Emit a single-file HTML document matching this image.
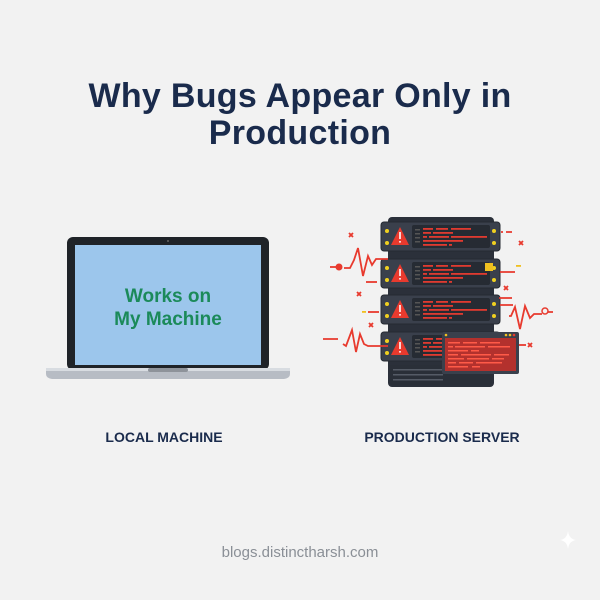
<!DOCTYPE html>
<html><head><style>
html,body{margin:0;padding:0;background:#f2f2f2;}
svg{display:block;}
</style></head><body>
<svg width="600" height="600" viewBox="0 0 600 600" xmlns="http://www.w3.org/2000/svg" font-family="Liberation Sans, sans-serif">
<rect width="600" height="600" fill="#f2f2f2"/>
<text x="300" y="107" text-anchor="middle" font-size="34" font-weight="bold" fill="#1a2b4c" letter-spacing="0.3">Why Bugs Appear Only in</text>
<text x="300" y="144" text-anchor="middle" font-size="34" font-weight="bold" fill="#1a2b4c" letter-spacing="0.3">Production</text>

<!-- laptop -->
<rect x="67" y="237" width="202" height="133" rx="6" fill="#1f2328"/>
<rect x="75" y="245" width="186" height="120" fill="#9cc6ec"/>
<circle cx="168" cy="241" r="1" fill="#666"/>
<text x="168" y="302" text-anchor="middle" font-size="19" font-weight="bold" fill="#1b8a5a">Works on</text>
<text x="168" y="325" text-anchor="middle" font-size="19" font-weight="bold" fill="#1b8a5a">My Machine</text>
<path d="M46 368 H290 V374 Q290 378 284 379 H52 Q46 378 46 374Z" fill="#b7bcc4"/>
<rect x="46" y="368" width="244" height="3" fill="#d8dce1"/>
<rect x="148" y="368" width="40" height="4" rx="2" fill="#8e939a"/>

<!-- server -->
<g>
<rect x="388" y="217" width="106" height="170" rx="4" fill="#2b303a"/>
<rect x="390" y="365" width="102" height="20" fill="#2a2f38"/>
<rect x="393" y="369" width="50" height="1.5" fill="#555b66"/><rect x="393" y="374" width="50" height="1.5" fill="#555b66"/><rect x="393" y="379" width="50" height="1.5" fill="#555b66"/>
</g>
<g id="u">
<rect x="381" y="222" width="119" height="29" rx="3" fill="#3a404c" stroke="#252a32"/>
<circle cx="387" cy="231" r="2" fill="#f0d020"/><circle cx="387" cy="243" r="2" fill="#f0d020"/>
<circle cx="494" cy="231" r="2" fill="#f0d020"/><circle cx="494" cy="243" r="2" fill="#f0d020"/>
<path d="M400 227 L409 245 L391 245Z" fill="#e83a2e"/>
<rect x="399.2" y="232" width="1.6" height="7" fill="#fff"/><rect x="399.2" y="241" width="1.6" height="1.6" fill="#fff"/>
<rect x="412" y="225" width="78" height="23" rx="2" fill="#262b33"/>
<rect x="415" y="229" width="5" height="1.5" fill="#555"/><rect x="415" y="233" width="5" height="1.5" fill="#555"/><rect x="415" y="237" width="5" height="1.5" fill="#555"/><rect x="415" y="241" width="5" height="1.5" fill="#555"/>
<rect x="423" y="228" width="10" height="1.8" fill="#e03a30"/><rect x="436" y="228" width="12" height="1.8" fill="#e03a30"/><rect x="451" y="228" width="20" height="1.8" fill="#e03a30"/>
<rect x="423" y="232" width="8" height="1.8" fill="#e03a30"/><rect x="433" y="232" width="20" height="1.8" fill="#e03a30"/>
<rect x="423" y="236" width="4" height="1.8" fill="#e03a30"/><rect x="429" y="236" width="20" height="1.8" fill="#e03a30"/><rect x="451" y="236" width="36" height="1.8" fill="#e03a30"/>
<rect x="423" y="240" width="40" height="1.8" fill="#e03a30"/>
<rect x="423" y="244" width="24" height="1.8" fill="#e03a30"/><rect x="449" y="244" width="3" height="1.8" fill="#e03a30"/>
</g>
<use href="#u" y="37"/>
<use href="#u" y="73"/>
<use href="#u" y="110"/>
<rect x="485" y="263" width="8" height="8" fill="#f0c020"/>

<!-- overlay window -->
<rect x="442" y="332" width="77" height="42" rx="2" fill="#3a404c"/>
<rect x="445" y="338" width="71" height="33" fill="#b3312d"/>
<circle cx="446" cy="335" r="1.3" fill="#f0c020"/><circle cx="506" cy="335" r="1.3" fill="#f0c020"/><circle cx="510" cy="335" r="1.3" fill="#f0c020"/><circle cx="514" cy="335" r="1.3" fill="#e83a2e"/>
<g fill="#ff5a48">
<rect x="448" y="342" width="12" height="1.5"/><rect x="463" y="342" width="14" height="1.5"/><rect x="480" y="342" width="20" height="1.5"/>
<rect x="448" y="346" width="5" height="1.5"/><rect x="455" y="346" width="30" height="1.5"/><rect x="488" y="346" width="22" height="1.5"/>
<rect x="448" y="350" width="20" height="1.5"/><rect x="471" y="350" width="8" height="1.5"/>
<rect x="448" y="354" width="10" height="1.5"/><rect x="461" y="354" width="30" height="1.5"/><rect x="494" y="354" width="15" height="1.5"/>
<rect x="448" y="358" width="16" height="1.5"/><rect x="467" y="358" width="22" height="1.5"/><rect x="492" y="358" width="12" height="1.5"/>
<rect x="448" y="362" width="8" height="1.5"/><rect x="459" y="362" width="14" height="1.5"/><rect x="476" y="362" width="26" height="1.5"/>
<rect x="448" y="366" width="20" height="1.5"/><rect x="472" y="366" width="8" height="1.5"/>
</g>

<!-- sparks / zigzags -->
<g stroke="#e83a2e" stroke-width="1.8" fill="none">
<path d="M344 268 H350 L354 260 L358 248 L363 276 L368 256 L372 265 L376 259 H388"/>
<path d="M330 267 H336"/>
<path d="M366 282 H377"/>
<path d="M323 339 H338 M343 344 L346 346 L352 330 L356 352 L360 334 L364 344 L368 346 H388"/>
<path d="M509 316 H511 L515 307 L520 329 L525 306 L530 318 L534 314 H542 M548 312 H553"/>
<path d="M500 272 H515 M499 298 H512 M500 305 H513"/>
<path d="M501 232 H503 M506 232 H512"/>
<path d="M519 345 H526"/>
<path d="M368 312 H379"/>
<path d="M349 233 L353 237 M353 233 L349 237"/>
<path d="M519 241 L523 245 M523 241 L519 245"/>
<path d="M504 286 L508 290 M508 286 L504 290"/>
<path d="M357 292 L361 296 M361 292 L357 296"/>
<path d="M369 323 L373 327 M373 323 L369 327"/>
<path d="M528 343 L532 347 M532 343 L528 347"/>
</g>
<circle cx="339" cy="267" r="3.5" fill="#e83a2e"/>
<circle cx="545" cy="311" r="3" fill="none" stroke="#e83a2e" stroke-width="1.5"/>
<rect x="362" y="311" width="4" height="1.8" fill="#f0c020"/>
<rect x="516" y="265" width="5" height="1.8" fill="#f0c020"/>

<text x="164" y="442" text-anchor="middle" font-size="14" font-weight="bold" fill="#1a2b4c">LOCAL MACHINE</text>
<text x="442" y="442" text-anchor="middle" font-size="14" font-weight="bold" fill="#1a2b4c">PRODUCTION SERVER</text>
<text x="300" y="557" text-anchor="middle" font-size="15" fill="#8a8f96">blogs.distinctharsh.com</text>
<path d="M568 531 Q569 539 576 540 Q569 541 568 549 Q567 541 560 540 Q567 539 568 531Z" fill="#fff"/>
</svg>
</body></html>
